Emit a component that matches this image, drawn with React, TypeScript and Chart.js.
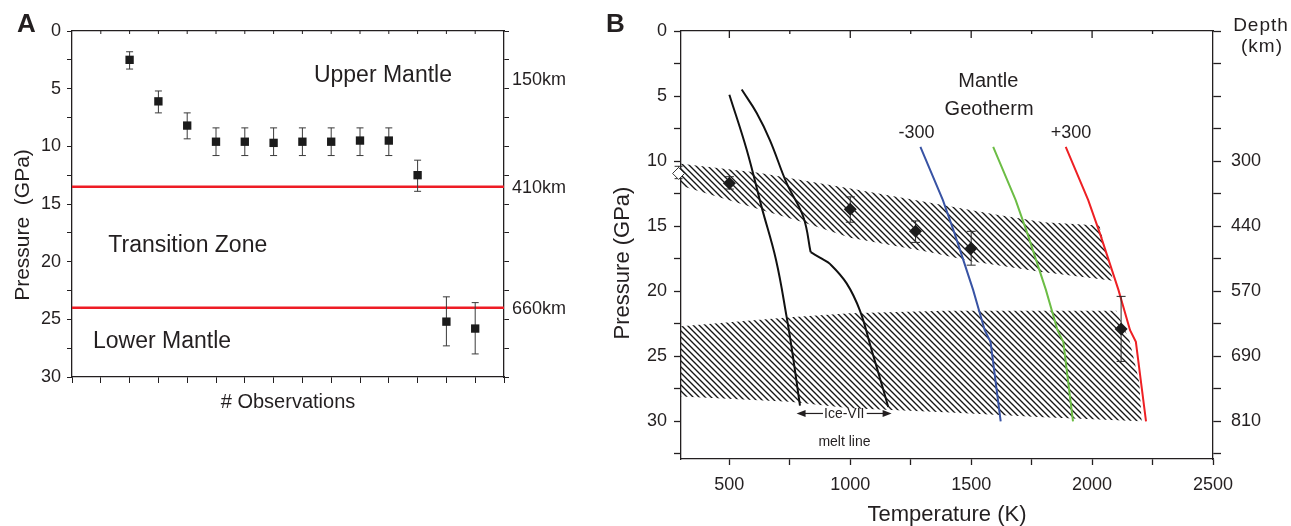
import React, { useEffect, useRef } from 'react';
import { Chart, registerables } from 'chart.js';

Chart.register(...registerables);

const FONT = "'Liberation Sans', Arial, Helvetica, sans-serif";
const NARROW = "'Liberation Sans Narrow', 'Arial Narrow', 'Liberation Sans', sans-serif";
const INK = '#231f20';

// ---------------- Panel A data ----------------
const obsIndex = [2, 3, 4, 5, 6, 7, 8, 9, 10, 11, 12, 13, 14];
const obsPressure = [2.5, 6.1, 8.2, 9.6, 9.6, 9.7, 9.6, 9.6, 9.5, 9.5, 12.5, 25.2, 25.8];
const obsErrLow = [1.8, 5.2, 7.1, 8.4, 8.4, 8.4, 8.4, 8.4, 8.4, 8.4, 11.2, 23.05, 23.55];
const obsErrHigh = [3.3, 7.1, 9.35, 10.8, 10.8, 10.8, 10.8, 10.8, 10.8, 10.8, 13.9, 27.3, 28.0];
const obsAxisTicks = [0, 1, 2, 3, 4, 5, 6, 7, 8, 9, 10, 11, 12, 13, 14, 15];
const pressureTicksA = [0, 2.5, 5, 7.5, 10, 12.5, 15, 17.5, 20, 22.5, 25, 27.5, 30];
const boundaryPressures = [13.5, 24.0];
const depthLabelsA = ['150km', '410km', '660km'];
const depthLabelPressuresA = [4.2, 13.5, 24.0];
const zoneLabels = ['Upper Mantle', 'Transition Zone', 'Lower Mantle'];

// ---------------- Panel B data ----------------
const tempTicks = [500, 750, 1000, 1250, 1500, 1750, 2000, 2250, 2500];
const pressureTicksB = [0, 2.5, 5, 7.5, 10, 12.5, 15, 17.5, 20, 22.5, 25, 27.5, 30, 32.5];
const depthTickPressures = [10, 15, 20, 25, 30];
const depthTickLabels = ['300', '440', '570', '690', '810'];

const iceMeltA_T = [500, 572, 633, 693, 737, 762, 792];
const iceMeltA_P = [4.9, 9.15, 13.5, 17.6, 22.0, 24.9, 28.8];
const iceMeltB_T = [551, 613, 668, 737, 806, 836, 882, 916, 985, 1040, 1088, 1137, 1157];
const iceMeltB_P = [4.5, 6.3, 8.4, 11.7, 14.3, 17.0, 17.5, 17.9, 19.4, 21.5, 24.5, 27.6, 28.9];
const iceMeltB_kink = 5;

const geothermP = [8.9, 13.0, 15.6, 19.9, 23.0, 23.9, 30.0];
const coldGeothermT = [1290, 1383, 1432, 1508, 1556, 1580, 1622];
const meanGeothermT = [1591, 1684, 1733, 1809, 1857, 1881, 1921];
const hotGeothermT = [1891, 1984, 2033, 2109, 2157, 2181, 2223];

const sampleT = [500, 1000, 1270, 1500, 2120];
const sampleP = [11.7, 13.7, 15.4, 16.7, 22.9];
const sampleLow = [11.2, 12.75, 14.6, 15.4, 20.4];
const sampleHigh = [12.15, 14.7, 16.25, 18.0, 25.4];
const openSampleT = [290];
const openSampleP = [10.95];
const openSampleLow = [10.4];
const openSampleHigh = [11.35];

const upperBandT = [300, 620, 1000, 1330, 1600, 1800, 2030, 2087, 1785, 1500, 1330, 1000, 805, 640, 300];
const upperBandP = [10.2, 10.9, 12.1, 13.2, 14.1, 14.7, 14.95, 19.2, 18.5, 17.7, 17.0, 15.9, 14.7, 13.8, 11.9];
const lowerBandT = [300, 751, 1000, 1392, 2100, 2155, 2195, 2205, 1800, 1392, 1000, 751, 300];
const lowerBandP = [22.7, 22.0, 21.7, 21.5, 21.5, 23.8, 27.0, 30.0, 29.7, 29.3, 29.0, 28.5, 28.1];

const pts = (xs: number[], ys: number[]) => xs.map((x, i) => ({ x, y: ys[i] }));

function makeHatch(): CanvasPattern | string {
  const c = document.createElement('canvas');
  c.width = 6;
  c.height = 6;
  const g = c.getContext('2d');
  if (!g) return '#888';
  g.strokeStyle = '#151515';
  g.lineWidth = 1.35;
  g.beginPath();
  g.moveTo(-3, -3); g.lineTo(9, 9);
  g.moveTo(-3, 3); g.lineTo(3, 9);
  g.moveTo(3, -3); g.lineTo(9, 3);
  g.stroke();
  return g.createPattern(c, 'repeat') || '#888';
}

function errorBarPlugin(id: string, datasetIndex: number, lows: number[], highs: number[], cap: number, color: string) {
  return {
    id,
    beforeDatasetDraw(chart: any, args: any) {
      if (args.index !== datasetIndex) return;
      const meta = chart.getDatasetMeta(datasetIndex);
      const ys = chart.scales[meta.yAxisID];
      const ctx = chart.ctx;
      ctx.save();
      ctx.strokeStyle = color;
      ctx.lineWidth = 1;
      meta.data.forEach((el: any, i: number) => {
        const x = el.x;
        const y1 = ys.getPixelForValue(lows[i]);
        const y2 = ys.getPixelForValue(highs[i]);
        ctx.beginPath();
        ctx.moveTo(x, y1); ctx.lineTo(x, y2);
        ctx.moveTo(x - cap / 2, y1); ctx.lineTo(x + cap / 2, y1);
        ctx.moveTo(x - cap / 2, y2); ctx.lineTo(x + cap / 2, y2);
        ctx.stroke();
      });
      ctx.restore();
    },
  };
}

const tickFont = { family: FONT, size: 18 };

function PanelA() {
  const ref = useRef<HTMLCanvasElement>(null);
  useEffect(() => {
    const canvas = ref.current;
    if (!canvas) return;
    const annot = {
      id: 'annotA',
      afterDraw(chart: any) {
        const { ctx, scales, chartArea } = chart;
        const xs = scales.x;
        const ys = scales.y;
        ctx.save();
        ctx.strokeStyle = INK;
        ctx.lineWidth = 1;
        ctx.beginPath();
        obsAxisTicks.forEach((v) => {
          if (v === 0 || v === 15) return;
          const px = xs.getPixelForValue(v);
          ctx.moveTo(px, chartArea.top);
          ctx.lineTo(px, chartArea.top + 3);
        });
        ctx.stroke();
        ctx.fillStyle = INK;
        ctx.font = `bold 26px ${NARROW}`;
        ctx.textAlign = 'left';
        ctx.textBaseline = 'alphabetic';
        ctx.fillText('A', 17, 32);
        ctx.save();
        ctx.translate(23, 225);
        ctx.rotate(-Math.PI / 2);
        ctx.font = `21px ${FONT}`;
        ctx.textAlign = 'center';
        ctx.textBaseline = 'middle';
        ctx.fillText('Pressure  (GPa)', 0, 0);
        ctx.restore();
        ctx.font = `23px ${FONT}`;
        ctx.textAlign = 'left';
        ctx.textBaseline = 'alphabetic';
        ctx.fillText(zoneLabels[0], xs.getPixelForValue(8.4), ys.getPixelForValue(4.4));
        ctx.fillText(zoneLabels[1], xs.getPixelForValue(1.26), ys.getPixelForValue(19.16));
        ctx.fillText(zoneLabels[2], xs.getPixelForValue(0.73), ys.getPixelForValue(27.49));
        ctx.font = `18px ${FONT}`;
        ctx.textBaseline = 'middle';
        depthLabelsA.forEach((t, i) => {
          ctx.fillText(t, chartArea.right + 8, ys.getPixelForValue(depthLabelPressuresA[i]) + 1);
        });
        ctx.restore();
      },
    };
    const chart = new Chart(canvas, {
      type: 'scatter',
      data: {
        datasets: [
          {
            label: 'Observations',
            data: pts(obsIndex, obsPressure),
            pointStyle: 'rect',
            pointRadius: 5.9,
            pointHoverRadius: 5.9,
            backgroundColor: '#1b1b1b',
            borderColor: '#1b1b1b',
            borderWidth: 0,
            order: 0,
          },
          {
            label: '410km',
            data: [{ x: 0, y: boundaryPressures[0] }, { x: 15, y: boundaryPressures[0] }],
            showLine: true,
            borderColor: '#ee1c25',
            borderWidth: 2.5,
            pointRadius: 0,
            order: 2,
          },
          {
            label: '660km',
            data: [{ x: 0, y: boundaryPressures[1] }, { x: 15, y: boundaryPressures[1] }],
            showLine: true,
            borderColor: '#ee1c25',
            borderWidth: 2.5,
            pointRadius: 0,
            order: 2,
          },
        ],
      } as any,
      options: {
        responsive: false,
        animation: false,
        devicePixelRatio: 1,
        events: [],
        layout: { padding: { left: 0, top: 31, right: 0, bottom: 114 } },
        plugins: { legend: { display: false }, tooltip: { enabled: false } },
        scales: {
          x: {
            type: 'linear',
            position: 'bottom',
            min: 0,
            max: 15,
            afterBuildTicks: (s: any) => { s.ticks = obsAxisTicks.map((v) => ({ value: v })); },
            ticks: { autoSkip: false, maxRotation: 0, callback: () => '', font: tickFont, color: INK },
            grid: { drawOnChartArea: false, tickLength: 6, color: INK, tickWidth: 1 },
            border: { color: INK, width: 1.3 },
            title: { display: true, text: '# Observations', font: { family: FONT, size: 20, lineHeight: 1 }, color: INK, padding: 0 },
            afterFit: (s: any) => { s.height = 35; },
          },
          xt: {
            type: 'linear',
            position: 'top',
            min: 0,
            max: 15,
            ticks: { display: false },
            grid: { display: false },
            border: { color: INK, width: 1.3 },
            afterFit: (s: any) => { s.height = 0; },
          },
          y: {
            type: 'linear',
            position: 'left',
            reverse: true,
            min: 0,
            max: 30,
            afterBuildTicks: (s: any) => { s.ticks = pressureTicksA.map((v) => ({ value: v })); },
            ticks: {
              autoSkip: false,
              padding: 6,
              font: tickFont,
              color: INK,
              callback: (v: any) => (Number(v) % 5 === 0 ? String(v) : ''),
            },
            grid: { drawOnChartArea: false, tickLength: 5, color: INK },
            border: { color: INK, width: 1.3 },
            afterFit: (s: any) => { s.width = 72; },
          },
          y2: {
            type: 'linear',
            position: 'right',
            reverse: true,
            min: 0,
            max: 30,
            afterBuildTicks: (s: any) => { s.ticks = pressureTicksA.map((v) => ({ value: v })); },
            ticks: { autoSkip: false, callback: () => '', font: tickFont },
            grid: { drawOnChartArea: false, tickLength: 5, color: INK },
            border: { color: INK, width: 1.3 },
            afterFit: (s: any) => { s.width = 86; },
          },
        },
      } as any,
      plugins: [errorBarPlugin('errA', 0, obsErrLow, obsErrHigh, 7, '#3a3a3a'), annot],
    });
    return () => chart.destroy();
  }, []);
  return <canvas ref={ref} width={590} height={526} style={{ position: 'absolute', left: 0, top: 0 }} />;
}

function PanelB() {
  const ref = useRef<HTMLCanvasElement>(null);
  useEffect(() => {
    const canvas = ref.current;
    if (!canvas) return;
    const hatch = makeHatch();
    const annot = {
      id: 'annotB',
      afterDraw(chart: any) {
        const { ctx, scales, chartArea } = chart;
        const xs = scales.x;
        const ys = scales.y;
        ctx.save();
        ctx.strokeStyle = INK;
        ctx.lineWidth = 1.3;
        ctx.beginPath();
        tempTicks.forEach((v) => {
          if (v >= 2500) return;
          const px = xs.getPixelForValue(v);
          const len = v % 500 === 0 ? 7 : 3;
          ctx.moveTo(px, chartArea.top);
          ctx.lineTo(px, chartArea.top + len);
        });
        ctx.stroke();
        ctx.fillStyle = INK;
        ctx.font = `bold 26px ${NARROW}`;
        ctx.textAlign = 'left';
        ctx.textBaseline = 'alphabetic';
        ctx.fillText('B', 16, 32);
        ctx.save();
        ctx.translate(33, 263);
        ctx.rotate(-Math.PI / 2);
        ctx.font = `22px ${FONT}`;
        ctx.textAlign = 'center';
        ctx.textBaseline = 'middle';
        ctx.fillText('Pressure (GPa)', 0, 0);
        ctx.restore();
        ctx.textAlign = 'center';
        ctx.font = `19px ${FONT}`;
        try { (ctx as any).letterSpacing = '1px'; } catch (e) { /* ignore */ }
        ctx.fillText('Depth', 671, 31);
        ctx.fillText('(km)', 672, 52);
        try { (ctx as any).letterSpacing = '0px'; } catch (e) { /* ignore */ }
        ctx.font = `20px ${FONT}`;
        ctx.fillText('Mantle', xs.getPixelForValue(1571), ys.getPixelForValue(4.33));
        ctx.fillText('Geotherm', xs.getPixelForValue(1574), ys.getPixelForValue(6.46));
        ctx.font = `18px ${FONT}`;
        ctx.fillText('-300', xs.getPixelForValue(1274), ys.getPixelForValue(8.2));
        ctx.fillText('+300', xs.getPixelForValue(1913), ys.getPixelForValue(8.2));
        ctx.font = `14px ${FONT}`;
        ctx.fillText('Ice-VII', xs.getPixelForValue(975), ys.getPixelForValue(29.77));
        ctx.fillText('melt line', xs.getPixelForValue(976), ys.getPixelForValue(31.9));
        const ay = ys.getPixelForValue(29.4);
        const drawArrow = (fromT: number, toT: number) => {
          const x1 = xs.getPixelForValue(fromT);
          const x2 = xs.getPixelForValue(toT);
          const dir = Math.sign(x2 - x1);
          ctx.strokeStyle = INK;
          ctx.lineWidth = 1.2;
          ctx.beginPath();
          ctx.moveTo(x1, ay);
          ctx.lineTo(x2 - dir * 6, ay);
          ctx.stroke();
          ctx.beginPath();
          ctx.moveTo(x2, ay);
          ctx.lineTo(x2 - dir * 9, ay - 3.5);
          ctx.lineTo(x2 - dir * 9, ay + 3.5);
          ctx.closePath();
          ctx.fill();
        };
        drawArrow(887, 778);
        drawArrow(1068, 1171);
        ctx.restore();
      },
    };
    const lineDs = (label: string, xsArr: number[], ysArr: number[], color: string, width: number, tension: number) => ({
      label,
      data: pts(xsArr, ysArr),
      showLine: true,
      borderColor: color,
      borderWidth: width,
      tension,
      pointRadius: 0,
      fill: false,
      order: 5,
    });
    const chart = new Chart(canvas, {
      type: 'scatter',
      data: {
        datasets: [
          {
            label: 'Samples',
            data: pts(sampleT, sampleP),
            pointStyle: 'rectRot',
            pointRadius: 6.5,
            backgroundColor: '#1b1b1b',
            borderColor: '#1b1b1b',
            borderWidth: 0,
            order: 0,
          },
          {
            label: 'Open sample',
            data: pts(openSampleT, openSampleP),
            pointStyle: 'rectRot',
            pointRadius: 6,
            backgroundColor: '#ffffff',
            borderColor: '#333333',
            borderWidth: 1,
            clip: false,
            order: 1,
          },
          lineDs('Ice-VII melt 1', iceMeltA_T, iceMeltA_P, '#111111', 2, 0.4),
          lineDs('Ice-VII melt 2 (upper)', iceMeltB_T.slice(0, iceMeltB_kink + 1), iceMeltB_P.slice(0, iceMeltB_kink + 1), '#111111', 2, 0.4),
          lineDs('Ice-VII melt 2 (lower)', iceMeltB_T.slice(iceMeltB_kink), iceMeltB_P.slice(iceMeltB_kink), '#111111', 2, 0.4),
          lineDs('Geotherm -300', coldGeothermT, geothermP, '#3853a4', 2, 0),
          lineDs('Mantle geotherm', meanGeothermT, geothermP, '#6cbd45', 2, 0),
          lineDs('Geotherm +300', hotGeothermT, geothermP, '#ee2024', 2, 0),
          {
            label: 'Upper band',
            data: pts(upperBandT, upperBandP),
            showLine: true,
            borderWidth: 0,
            borderColor: 'rgba(0,0,0,0)',
            backgroundColor: hatch,
            fill: 'shape',
            pointRadius: 0,
            order: 10,
          },
          {
            label: 'Lower band',
            data: pts(lowerBandT, lowerBandP),
            showLine: true,
            borderWidth: 0,
            borderColor: 'rgba(0,0,0,0)',
            backgroundColor: hatch,
            fill: 'shape',
            pointRadius: 0,
            order: 10,
          },
        ],
      } as any,
      options: {
        responsive: false,
        animation: false,
        devicePixelRatio: 1,
        events: [],
        layout: { padding: { left: 0, top: 31, right: 0, bottom: 0 } },
        plugins: { legend: { display: false }, tooltip: { enabled: false } },
        scales: {
          x: {
            type: 'linear',
            position: 'bottom',
            min: 300,
            max: 2500,
            afterBuildTicks: (s: any) => { s.ticks = tempTicks.map((v) => ({ value: v })); },
            ticks: {
              autoSkip: false,
              maxRotation: 0,
              padding: 9,
              font: tickFont,
              color: INK,
              callback: (v: any) => (Number(v) % 500 === 0 ? String(v) : ''),
            },
            grid: { drawOnChartArea: false, tickLength: 6, color: INK, tickWidth: 1.3 },
            border: { color: INK, width: 1.3 },
            title: { display: true, text: 'Temperature (K)', font: { family: FONT, size: 22, lineHeight: 1 }, color: INK, padding: 0 },
            afterFit: (s: any) => { s.height = 67; },
          },
          xt: {
            type: 'linear',
            position: 'top',
            min: 300,
            max: 2500,
            ticks: { display: false },
            grid: { display: false },
            border: { color: INK, width: 1.3 },
            afterFit: (s: any) => { s.height = 0; },
          },
          y: {
            type: 'linear',
            position: 'left',
            reverse: true,
            min: 0,
            max: 32.9,
            afterBuildTicks: (s: any) => { s.ticks = pressureTicksB.map((v) => ({ value: v })); },
            ticks: {
              autoSkip: false,
              padding: 7,
              font: tickFont,
              color: INK,
              callback: (v: any) => (Number(v) % 5 === 0 && Number(v) <= 30 ? String(v) : ''),
            },
            grid: { drawOnChartArea: false, tickLength: 7, color: INK, tickWidth: 1.3 },
            border: { color: INK, width: 1.3 },
            afterFit: (s: any) => { s.width = 91; },
          },
          y2: {
            type: 'linear',
            position: 'right',
            reverse: true,
            min: 0,
            max: 32.9,
            afterBuildTicks: (s: any) => { s.ticks = pressureTicksB.map((v) => ({ value: v })); },
            ticks: {
              autoSkip: false,
              padding: 10,
              font: tickFont,
              color: INK,
              callback: (v: any) => {
                const i = depthTickPressures.indexOf(Number(v));
                return i >= 0 ? depthTickLabels[i] : '';
              },
            },
            grid: { drawOnChartArea: false, tickLength: 8, color: INK, tickWidth: 1.3 },
            border: { color: INK, width: 1.3 },
            afterFit: (s: any) => { s.width = 78; },
          },
        },
      } as any,
      plugins: [
        errorBarPlugin('errB', 0, sampleLow, sampleHigh, 9, '#2a2a2a'),
        errorBarPlugin('errBopen', 1, openSampleLow, openSampleHigh, 8, '#2a2a2a'),
        annot,
      ],
    });
    return () => chart.destroy();
  }, []);
  return <canvas ref={ref} width={701} height={526} style={{ position: 'absolute', left: 590, top: 0 }} />;
}

export default function App() {
  return (
    <div style={{ position: 'absolute', left: 0, top: 0, width: 1291, height: 526, background: '#ffffff', overflow: 'hidden' }}>
      <PanelA />
      <PanelB />
    </div>
  );
}
